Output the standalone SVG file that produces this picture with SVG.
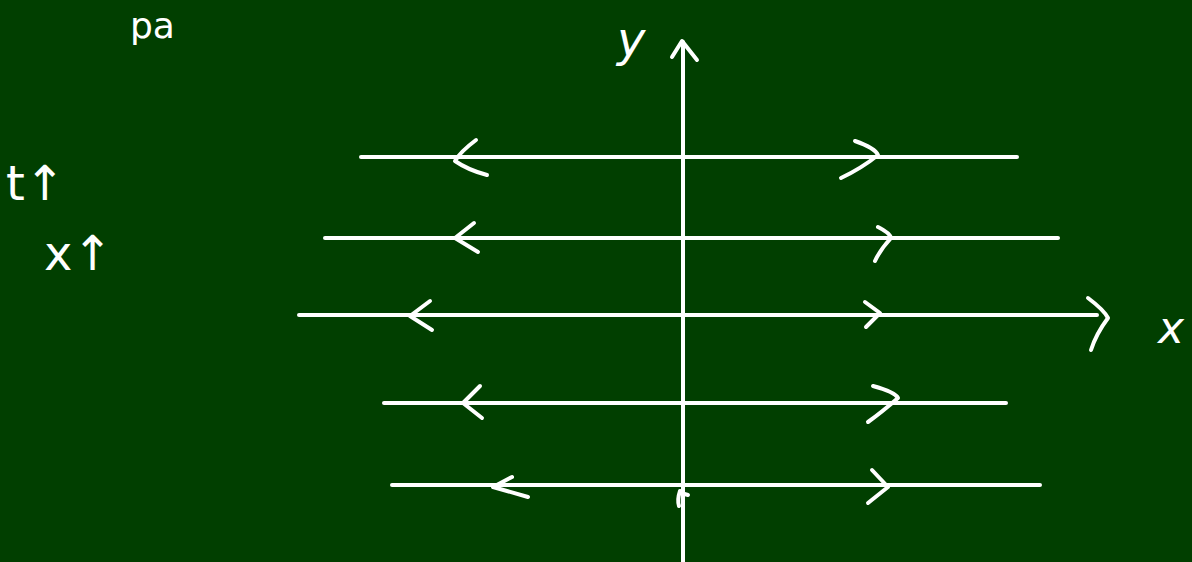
<svg xmlns="http://www.w3.org/2000/svg" width="1192" height="562" viewBox="0 0 1192 562">
<style>
.s{fill:none;stroke:#ffffff;stroke-width:4;stroke-linecap:round;stroke-linejoin:round}
.t{fill:#ffffff;font-family:"DejaVu Sans","Liberation Sans",sans-serif}
</style>
<rect width="1192" height="562" fill="#013f00"/>
<g id="connectors">
<path class="s" d="M683 562 V42"/>
<path class="s" d="M672 57 L682 41 L697 60"/>
<path class="s" d="M361 157 H1017"/>
<path class="s" d="M476 140 Q460 152 455 161 Q468 170 487 175"/>
<path class="s" d="M855 141 Q875 148 878 155 Q862 168 841 178"/>
<path class="s" d="M325 238 H1058"/>
<path class="s" d="M474 223 L455 238 L478 252"/>
<path class="s" d="M878 227 Q890 233 891 238 Q880 250 875 261"/>
<path class="s" d="M299 315 H1097"/>
<path class="s" d="M1088 298 Q1104 310 1108 318 Q1096 334 1091 350"/>
<path class="s" d="M430 301 L410 316 L432 330"/>
<path class="s" d="M865 302 L880 313 L866 327"/>
<path class="s" d="M384 403 H1006"/>
<path class="s" d="M480 386 L463 403 L482 418"/>
<path class="s" d="M873 386 Q895 392 898 398 Q882 412 868 422"/>
<path class="s" d="M392 485 H1040"/>
<path class="s" d="M512 477 L493 487 L528 497"/>
<path class="s" d="M872 470 L888 487 L868 503"/>
<path class="s" d="M680 491 Q677 500 679 506 M681 493 L688 495"/>
</g>
<g id="label-y"><text class="t" x="617" y="56" font-size="48" font-style="italic">y</text></g>
<g id="label-x"><text class="t" x="1158" y="343" font-size="44" font-style="italic">x</text></g>
<g id="label-t"><text class="t" x="6" y="200" font-size="48">t↑</text></g>
<g id="label-x-up"><text class="t" x="44" y="270" font-size="48">x↑</text></g>
<g id="label-top"><text class="t" x="130" y="38" font-size="36">pa</text></g>
</svg>
